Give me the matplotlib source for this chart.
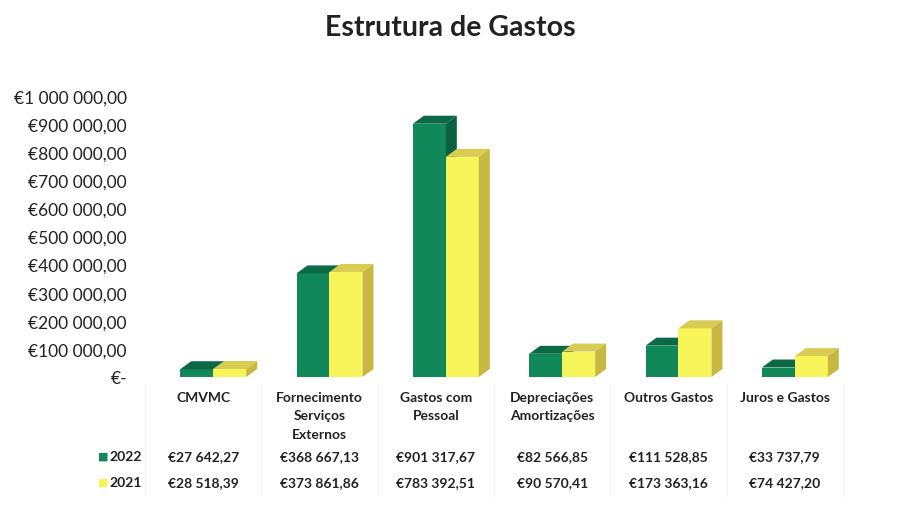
import matplotlib
matplotlib.use("Agg")
import matplotlib.pyplot as plt
from matplotlib.patches import Polygon
from matplotlib.transforms import blended_transform_factory

# Chart data
categories = ["CMVMC", "Fornecimento\nServiços\nExternos", "Gastos com\nPessoal",
              "Depreciações\nAmortizações", "Outros Gastos", "Juros e Gastos"]
values_2022 = [27642.27, 368667.13, 901317.67, 82566.85, 111528.85, 33737.79]
values_2021 = [28518.39, 373861.86, 783392.51, 90570.41, 173363.16, 74427.20]
labels_2022 = ["€27 642,27", "€368 667,13", "€901 317,67", "€82 566,85", "€111 528,85", "€33 737,79"]
labels_2021 = ["€28 518,39", "€373 861,86", "€783 392,51", "€90 570,41", "€173 363,16", "€74 427,20"]
series_names = ["2022", "2021"]
y_ticks = [0, 100000, 200000, 300000, 400000, 500000, 600000, 700000, 800000, 900000, 1000000]
y_ticklabels = ["€-", "€100 000,00", "€200 000,00", "€300 000,00", "€400 000,00", "€500 000,00",
                "€600 000,00", "€700 000,00", "€800 000,00", "€900 000,00", "€1 000 000,00"]

# colours: front, top, side
green = ("#10885a", "#0b6a46", "#0a6242")
yellow = ("#f8f55a", "#d8cc52", "#c6b840")

plt.rcParams['font.family'] = ['Lato', 'DejaVu Sans']

W, H = 916, 506
fig = plt.figure(figsize=(W / 100, H / 100), dpi=100)
ax = fig.add_axes([145 / W, 1 - 378 / H, 698 / W, 281 / H])
ax.set_xlim(-0.5, 5.5)
ax.set_ylim(0, 1000000)

bar_w = 0.2835
x_shift = -0.1976
dx = 11 / 116.4          # 3D depth in x (data units)
dy = 8 / 281 * 1000000   # 3D depth in y (data units)


def bar3d(x0, h, cols):
    ax.add_patch(Polygon([(x0, 0), (x0 + bar_w, 0), (x0 + bar_w, h), (x0, h)],
                         closed=True, facecolor=cols[0], edgecolor='none', zorder=3))
    ax.add_patch(Polygon([(x0, h), (x0 + bar_w, h), (x0 + bar_w + dx, h + dy), (x0 + dx, h + dy)],
                         closed=True, facecolor=cols[1], edgecolor='none', zorder=3))
    ax.add_patch(Polygon([(x0 + bar_w, 0), (x0 + bar_w + dx, dy), (x0 + bar_w + dx, h + dy), (x0 + bar_w, h)],
                         closed=True, facecolor=cols[2], edgecolor='none', zorder=3))


for i in range(len(categories)):
    bar3d(i + x_shift, values_2022[i], green)
    bar3d(i + x_shift + bar_w, values_2021[i], yellow)

ax.set_yticks(y_ticks)
ax.set_yticklabels(y_ticklabels, fontsize=12.5, color="#222222")
ax.tick_params(axis='y', length=0, pad=13)
ax.set_xticks([])
for s in ax.spines.values():
    s.set_visible(False)
ax.patch.set_alpha(0)

fig.text(450 / W, 1 - 28 / H, "Estrutura de Gastos", ha='center', va='center',
         fontsize=20.5, fontweight='bold', color="#222222")

tr = blended_transform_factory(ax.transData, fig.transFigure)
for i, cat in enumerate(categories):
    ax.text(i, 1 - 392 / H, cat, transform=tr, ha='center', va='top', fontsize=10,
            fontweight='bold', color="#222222", linespacing=1.63, clip_on=False)
    ax.text(i, 1 - 457 / H, labels_2022[i], transform=tr, ha='center', va='center',
            fontsize=10, fontweight='bold', color="#222222", clip_on=False)
    ax.text(i, 1 - 483 / H, labels_2021[i], transform=tr, ha='center', va='center',
            fontsize=10, fontweight='bold', color="#222222", clip_on=False)

# faint data-table grid
for k in range(len(categories) + 1):
    ax.plot([k - 0.5, k - 0.5], [1 - 385 / H, 1 - 497 / H], transform=tr,
            color="#f3f3f3", lw=0.8, clip_on=False)

# row headers with legend keys
for name, col, ypx in zip(series_names, [green[0], yellow[0]], [457, 483]):
    fig.text(98 / W, 1 - ypx / H, "■", ha='left', va='center', fontsize=8,
             color=col, family=['DejaVu Sans'])
    fig.text(109 / W, 1 - ypx / H, name, ha='left', va='center', fontsize=10,
             fontweight='bold', color="#222222")

fig.savefig("out.png", dpi=100)
